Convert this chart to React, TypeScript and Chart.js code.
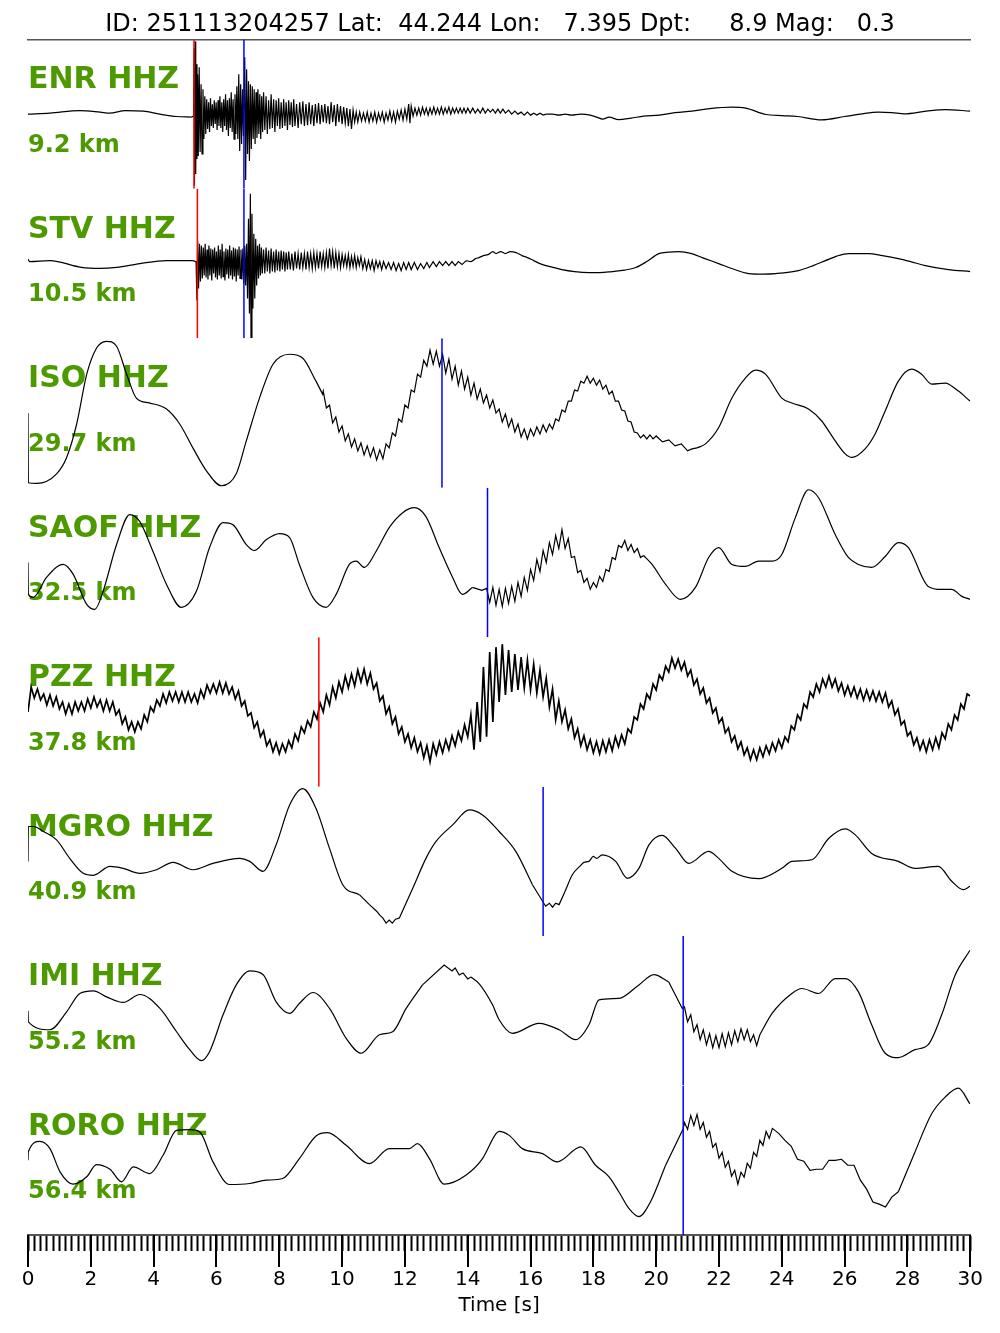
import React, { useEffect, useRef } from 'react';
import { Chart, registerables } from 'chart.js';

Chart.register(...registerables);

// ---------- text ----------
const TITLE = 'ID: 251113204257 Lat:  44.244 Lon:   7.395 Dpt:     8.9 Mag:   0.3';
const STATIONS = ['ENR HHZ', 'STV HHZ', 'ISO HHZ', 'SAOF HHZ', 'PZZ HHZ', 'MGRO HHZ', 'IMI HHZ', 'RORO HHZ'];
const DISTANCES = ['9.2 km', '10.5 km', '29.7 km', '32.5 km', '37.8 km', '40.9 km', '55.2 km', '56.4 km'];
const X_TICK_LABELS = [0, 2, 4, 6, 8, 10, 12, 14, 16, 18, 20, 22, 24, 26, 28, 30];
const X_AXIS_TITLE = 'Time [s]';

// ---------- picks (seconds), one entry per station ----------
const RED_PICKS: (number | null)[] = [5.285, 5.393, null, null, 9.26, null, null, null];
const BLUE_PICKS: (number | null)[] = [6.875, 6.875, 13.18, 14.63, null, 16.4, 20.86, 20.86];

// time windows (s) where each trace is dominated by high-frequency noise
const NOISY_WINDOWS: [number, number][][] = [
  [[5.27, 16.5]],
  [[5.35, 13.95]],
  [[9.38, 21.3]],
  [[14.45, 19.6]],
  [[0, 30]],
  [[10.87, 11.82], [16.48, 17.1]],
  [[13.25, 14.1], [20.83, 23.3]],
  [[20.86, 27.71]],
];

// ---------- traces: [time s, normalised amplitude] ----------
const ENR: [number, number][] = [
  [0, 0], [0.7, 1], [1.65, 3.6], [2.3, 2], [2.6, 1], [3.1, 3.6], [3.67, 3], [4.2, 0], [4.73, -2.4], [5.2, -3], [5.27, -2],
  [5.29, 66], [5.3, -72], [5.32, 73], [5.34, -60], [5.36, 50], [5.38, -45], [5.4, 40], [5.42, -42], [5.45, 47], [5.48, -38],
  [5.51, 30], [5.54, -40], [5.57, 25], [5.6, -25], [5.63, 18], [5.66, -20], [5.69, 15], [5.72, -15], [5.75, 12], [5.78, -18],
  [5.81, 16], [5.84, -12], [5.87, 10], [5.9, -14], [5.93, 14], [5.96, -10], [5.99, 12], [6.02, -16], [6.05, 14], [6.08, -12],
  [6.11, 18], [6.14, -14], [6.17, 12], [6.2, -18], [6.23, 15], [6.26, -12], [6.29, 20], [6.32, -16], [6.35, 14], [6.38, -22],
  [6.41, 16], [6.44, -14], [6.47, 22], [6.5, -18], [6.53, 15], [6.56, -25], [6.59, 20], [6.62, -20], [6.65, 28], [6.68, -25],
  [6.71, 40], [6.74, -37], [6.77, 30], [6.8, -30], [6.83, 25], [6.86, -22], [6.9, 57], [6.93, -66], [6.96, 45], [6.99, -40],
  [7.02, 33], [7.05, -47], [7.08, 30], [7.11, -35], [7.14, 28], [7.17, -25], [7.2, 25], [7.23, -30], [7.26, 22], [7.29, -24],
  [7.32, 25], [7.35, -20], [7.38, 20], [7.41, -25], [7.44, 18], [7.47, -18], [7.5, 22], [7.54, -16], [7.58, 18], [7.62, -20],
  [7.66, 14], [7.7, -15], [7.74, 20], [7.78, -14], [7.82, 15], [7.86, -18], [7.9, 14], [7.94, -12], [7.98, 16], [8.02, -15],
  [8.06, 12], [8.1, -14], [8.14, 15], [8.18, -12], [8.22, 12], [8.26, -16], [8.3, 14], [8.34, -11], [8.38, 12], [8.42, -13],
  [8.46, 15], [8.5, -12], [8.55, 10], [8.6, -14], [8.65, 12], [8.7, -10], [8.75, 13], [8.8, -12], [8.85, 10], [8.9, -11],
  [8.95, 12], [9, -10], [9.05, 9], [9.1, -12], [9.15, 10], [9.2, -9], [9.25, 11], [9.3, -10], [9.35, 9], [9.4, -8],
  [9.45, 10], [9.5, -9], [9.55, 8], [9.6, -10], [9.65, 12], [9.7, -8], [9.75, 9], [9.8, -12], [9.85, 10], [9.9, -8],
  [9.95, 8], [10, -10], [10.05, 7], [10.1, -9], [10.15, 6], [10.2, -12], [10.25, 5], [10.3, -15], [10.35, 4], [10.4, -8],
  [10.45, 2], [10.5, -8], [10.56, 2], [10.62, -7], [10.68, 1], [10.74, -7], [10.8, 2], [10.86, -8], [10.92, 1], [10.98, -7],
  [11.04, 2], [11.1, -8], [11.16, 1], [11.22, -6], [11.28, 2], [11.34, -8], [11.4, 1], [11.46, -6], [11.52, 3], [11.58, -7],
  [11.64, 2], [11.7, -8], [11.76, 3], [11.82, -5], [11.88, 4], [11.94, -6], [12, 5], [12.06, -5], [12.12, 10], [12.16, -9],
  [12.2, 8], [12.26, -2], [12.32, 6], [12.38, -1], [12.44, 6], [12.5, -1], [12.56, 7], [12.62, 0], [12.68, 6], [12.74, -1],
  [12.8, 6], [12.86, 0], [12.92, 7], [12.98, 0], [13.04, 6], [13.1, 0], [13.16, 7], [13.22, 0], [13.28, 6], [13.34, 1],
  [13.4, 7], [13.46, 0], [13.52, 6], [13.58, 1], [13.64, 6], [13.7, 1], [13.76, 6], [13.82, 1], [13.88, 6], [13.94, 1],
  [14, 6], [14.08, 1], [14.16, 6], [14.24, 1], [14.32, 5], [14.4, 1], [14.48, 6], [14.56, 1], [14.64, 5], [14.72, 2],
  [14.8, 5], [14.88, 1], [14.96, 5], [15.04, 1], [15.12, 5], [15.2, 1], [15.3, 4], [15.4, 0], [15.5, 3], [15.6, 0],
  [15.7, 2], [15.8, -1], [15.9, 2], [16, -1], [16.1, 1], [16.2, -1], [16.3, 1], [16.4, -1], [16.5, 0], [16.7, 0],
  [16.9, -1], [17.1, 0], [17.3, -1], [17.6, 0], [17.9, -1], [18.1, -3], [18.3, -5], [18.5, -3], [18.8, -5.5], [19.2, -4],
  [19.6, -2], [20.1, -1], [20.6, 1.5], [21.14, 3], [21.7, 5.5], [22.4, 7], [22.85, 6], [23.5, -0.4], [24, -1.5], [24.5, -2.4],
  [25.26, -5.7], [26, -2.4], [26.5, 0], [27.07, 2], [27.5, 1.5], [27.9, 0.3], [28.6, 3], [29.2, 4.6], [30, 3],
];

const STV: [number, number][] = [
  [0, 4.6], [0.05, 2], [0.7, 3], [1.7, -3.8], [2.29, -4.8], [2.82, -3.8], [3.56, 0], [4.41, 3], [5.25, 3], [5.35, 2],
  [5.38, -37], [5.4, 23], [5.43, -25], [5.46, 20], [5.49, -18], [5.52, 18], [5.55, -15], [5.58, 16], [5.61, -12], [5.64, 20],
  [5.67, -14], [5.7, 14], [5.73, -16], [5.76, 18], [5.79, -12], [5.82, 15], [5.85, -17], [5.88, 14], [5.91, -10], [5.94, 16],
  [5.97, -14], [6, 12], [6.03, -16], [6.06, 18], [6.09, -12], [6.12, 14], [6.15, -15], [6.18, 20], [6.21, -13], [6.24, 12],
  [6.27, -17], [6.3, 15], [6.33, -11], [6.36, 14], [6.39, -15], [6.42, 18], [6.45, -12], [6.48, 13], [6.51, -16], [6.54, 16],
  [6.57, -13], [6.6, 15], [6.63, -18], [6.66, 14], [6.69, -12], [6.72, 17], [6.75, -15], [6.78, 14], [6.81, -16], [6.84, 15],
  [6.87, -20], [6.9, 18], [6.93, -22], [6.96, 20], [6.99, -35], [7.02, 45], [7.05, -50], [7.08, 70], [7.1, -74], [7.13, 50],
  [7.16, -45], [7.19, 30], [7.22, -35], [7.25, 25], [7.28, -22], [7.31, 18], [7.34, -15], [7.37, 20], [7.4, -12], [7.43, 16],
  [7.46, -10], [7.5, 14], [7.54, -10], [7.58, 16], [7.62, -8], [7.66, 13], [7.7, -10], [7.74, 15], [7.78, -8], [7.82, 12],
  [7.86, -9], [7.9, 14], [7.94, -7], [7.98, 12], [8.02, -8], [8.06, 13], [8.1, -6], [8.14, 12], [8.18, -8], [8.22, 11],
  [8.26, -6], [8.3, 12], [8.35, -6], [8.4, 10], [8.45, -7], [8.5, 12], [8.55, -5], [8.6, 10], [8.65, -6], [8.7, 11],
  [8.75, -4], [8.8, 10], [8.85, -6], [8.9, 12], [8.95, -4], [9, 10], [9.05, -5], [9.1, 11], [9.15, -4], [9.2, 10],
  [9.25, -5], [9.3, 12], [9.35, -3], [9.4, 10], [9.45, -4], [9.5, 11], [9.55, -5], [9.6, 15], [9.65, -2], [9.7, 12],
  [9.75, -5], [9.8, 11], [9.85, -3], [9.9, 10], [9.95, -4], [10, 9], [10.05, -2], [10.1, 8], [10.15, -3], [10.2, 9],
  [10.25, -4], [10.3, 7], [10.35, -3], [10.4, 8], [10.45, -4], [10.5, 6], [10.55, -2], [10.6, 7], [10.66, -5], [10.72, 4],
  [10.78, -6], [10.84, 3], [10.9, -5], [10.96, 3], [11.02, -7], [11.08, 3], [11.14, -4], [11.2, 2], [11.26, -6], [11.32, 2],
  [11.4, -5], [11.48, 1], [11.56, -6], [11.64, 1], [11.72, -7], [11.8, 0], [11.88, -7], [11.96, 1], [12.04, -6], [12.12, 1],
  [12.2, -6], [12.3, 1], [12.4, -6], [12.5, 0], [12.6, -5], [12.7, 1], [12.78, -4], [12.9, 2], [13, -3], [13.1, 2],
  [13.2, -2], [13.3, 2], [13.4, -2], [13.5, 2], [13.6, -2], [13.7, 2], [13.82, -1], [13.95, 3], [14.1, 2], [14.25, 5],
  [14.36, 6], [14.5, 8], [14.65, 9], [14.8, 12], [14.9, 10], [15.05, 12], [15.2, 10], [15.35, 12], [15.54, 11], [15.73, 8],
  [15.9, 6], [16.1, 3], [16.3, 0], [16.49, -2], [16.75, -4], [17, -6], [17.4, -8], [17.86, -9], [18.2, -9], [18.59, -8],
  [19, -6.5], [19.35, -4], [19.7, 2], [20.08, 10], [20.4, 11.5], [20.72, 12], [21.13, 10], [21.55, 5], [21.99, 0], [22.45, -5.5],
  [22.94, -10], [23.4, -10.5], [23.8, -10], [24.53, -7], [25, -2], [25.39, 3], [25.75, 7.5], [26.12, 10], [26.76, 10], [27.2, 8],
  [27.71, 5], [28.1, 2], [28.57, -2], [29.3, -6], [30, -8],
];

const ISO: [number, number][] = [
  [0, 0], [0.01, -70], [0.28, -70.6], [0.91, -61], [1.23, -44.6], [1.55, -11], [1.87, 39], [2.18, 65], [2.5, 72], [2.82, 67],
  [3.14, 39], [3.45, 15], [3.88, 10], [4.41, 4], [4.83, -11], [5.25, -35], [5.68, -58], [6.16, -73], [6.63, -61], [6.95, -28],
  [7.37, 15], [7.8, 49], [8.33, 59], [8.75, 55], [9.17, 32], [9.38, 19],
  [9.4, 22], [9.5, 5], [9.6, 8], [9.7, -10], [9.8, -4], [9.9, -19], [10, -13], [10.1, -28], [10.2, -21], [10.3, -34],
  [10.4, -26], [10.5, -38], [10.6, -30], [10.7, -42], [10.8, -33], [10.9, -44], [11, -35], [11.1, -47], [11.2, -37], [11.3, -46],
  [11.4, -31], [11.5, -35], [11.6, -20], [11.7, -23], [11.8, -6], [11.9, -9], [12, 8], [12.1, 5], [12.2, 23], [12.3, 21],
  [12.4, 39], [12.5, 36], [12.6, 53], [12.7, 47], [12.8, 63], [12.9, 49], [13, 62], [13.1, 47], [13.2, 59], [13.3, 40],
  [13.4, 54], [13.5, 34], [13.6, 47], [13.7, 28], [13.8, 42], [13.9, 24], [14, 36], [14.1, 18], [14.2, 30], [14.3, 14],
  [14.4, 24], [14.5, 10], [14.6, 18], [14.7, 5], [14.8, 13], [14.9, 0], [15, 4], [15.1, -9], [15.2, -1], [15.3, -14],
  [15.4, -6], [15.5, -19], [15.6, -11], [15.7, -24], [15.8, -16], [15.9, -26], [16, -16], [16.1, -23], [16.2, -14], [16.3, -21],
  [16.4, -12], [16.5, -19], [16.6, -11], [16.7, -16], [16.8, -6], [16.9, -8], [17, 3], [17.1, 1], [17.2, 12], [17.3, 12],
  [17.4, 23], [17.5, 22], [17.6, 32], [17.7, 30], [17.8, 37], [17.9, 30], [18, 35], [18.1, 28], [18.2, 33], [18.3, 24],
  [18.4, 28], [18.5, 19], [18.6, 22], [18.7, 12], [18.8, 12], [18.9, 3], [19, 2], [19.1, -8], [19.2, -9], [19.3, -19],
  [19.4, -20], [19.5, -25], [19.6, -22], [19.7, -26], [19.8, -22], [19.9, -26], [20, -23], [20.2, -29], [20.4, -27], [20.6, -33],
  [20.8, -31], [21, -38], [21.14, -36], [21.3, -35], [21.57, -31], [21.99, -14.6], [22.41, 15], [22.84, 35], [23.16, 43], [23.48, 39],
  [24, 15], [24.32, 10], [24.85, 4], [25.27, -8], [25.7, -28], [26.02, -41], [26.23, -44.6], [26.65, -36], [26.97, -21], [27.29, 2],
  [27.71, 32], [28.13, 44], [28.45, 39], [28.77, 29], [29.2, 30], [29.62, 22], [29.99, 12],
];

const SAOF: [number, number][] = [
  [0, 0], [0.01, -32], [0.17, -35], [0.59, -15], [1.12, -2], [1.44, -12], [1.87, -42], [2.13, -47], [2.39, -29], [2.82, 18],
  [3.24, 48], [3.56, 41], [3.98, 11], [4.41, -22], [4.88, -45], [5.36, -29], [5.78, 15], [6.21, 40], [6.52, 38], [6.95, 18],
  [7.21, 12], [7.59, 23], [8.01, 29], [8.33, 25], [8.64, -2], [9.07, -35], [9.49, -45], [9.81, -32], [10.23, -2], [10.45, 1.4],
  [10.71, -5], [11.08, 11], [11.5, 35], [11.93, 50], [12.3, 55], [12.67, 46], [13.09, 15], [13.52, -15], [13.83, -32], [14.15, -25],
  [14.45, -28],
  [14.6, -26], [14.7, -40], [14.8, -25], [14.9, -43], [15, -27], [15.1, -44], [15.2, -26], [15.3, -41], [15.4, -24], [15.5, -39],
  [15.6, -20], [15.7, -34], [15.8, -15], [15.9, -28], [16, -7], [16.1, -18], [16.2, 3], [16.3, -9], [16.4, 12], [16.5, 0],
  [16.6, 20], [16.7, 8], [16.8, 27], [16.9, 14], [17, 33], [17.1, 14], [17.2, 24], [17.3, 5], [17.4, 6], [17.5, -10],
  [17.6, -8], [17.7, -20], [17.8, -16], [17.9, -27], [18, -20], [18.1, -25], [18.2, -14], [18.3, -19], [18.4, -7], [18.5, -9],
  [18.6, 5], [18.7, 3], [18.8, 17], [18.9, 15], [19, 22], [19.1, 12], [19.2, 18], [19.3, 10], [19.4, 14], [19.5, 5],
  [19.6, 7],
  [19.87, -2], [20.3, -22], [20.77, -37], [21.25, -25], [21.67, 5], [21.99, 15], [22.41, -2], [22.84, -4], [23.26, 1.4], [23.69, 1.4],
  [24, 8], [24.43, 45], [24.85, 73], [25.17, 65], [25.7, 28], [26.12, 5], [26.44, -2], [26.86, -5], [27.29, 6], [27.71, 20],
  [28.03, 15], [28.66, -24], [29.09, -27], [29.41, -27], [29.73, -34], [29.99, -37],
];

// PZZ is read at a regular 0.1 s interval
const PZZ_DT = 0.1;
const PZZ: number[] = [
  0, 25, 14, 23, 12, 18, 7, 17, 6, 15,
  3, 10, -2, 8, -2, 10, 1, 10, 1, 13,
  4, 15, 5, 12, 1, 12, 1, 10, -3, 2,
  -12, -5, -18, -10, -20, -10, -17, -3, -10, 5,
  0, 12, 6, 18, 9, 20, 11, 20, 10, 20,
  10, 20, 10, 18, 9, 22, 14, 27, 19, 28,
  19, 30, 19, 29, 18, 25, 13, 21, 6, 11,
  -4, -1, -16, -10, -25, -19, -34, -28, -40, -31,
  -42, -32, -40, -29, -36, -22, -29, -15, -21, -9,
  -15, 0, -7, 9, 0, 17, 7, 25, 14, 30,
  20, 36, 24, 38, 26, 42, 30, 43, 28, 39,
  23, 29, 11, 16, -2, 5, -12, -5, -22, -15,
  -30, -22, -36, -26, -40, -31, -46, -34, -50, -32,
  -43, -30, -41, -28, -38, -24, -34, -20, -29, -13,
  -25, -3, -38, 10, -30, 45, -25, 60, -10, 65,
  10, 68, 17, 62, 20, 58, 22, 55, 24, 52,
  22, 48, 19, 42, 15, 34, 5, 23, -8, 11,
  -10, 2, -17, -7, -26, -17, -34, -24, -38, -28,
  -41, -30, -42, -29, -40, -28, -39, -25, -35, -23,
  -32, -17, -21, -5, -8, 8, 3, 18, 13, 28,
  22, 37, 32, 46, 40, 54, 44, 53, 42, 50,
  36, 42, 27, 33, 18, 24, 9, 14, -1, 4,
  -11, -6, -21, -16, -30, -24, -37, -30, -43, -36,
  -48, -38, -48, -36, -45, -34, -42, -31, -39, -28,
  -36, -25, -30, -14, -18, -3, -8, 8, 4, 20,
  15, 28, 20, 33, 25, 36, 25, 33, 21, 29,
  17, 26, 16, 25, 14, 23, 12, 22, 12, 21,
  11, 20, 10, 19, 5, 11, -3, 3, -13, -9,
  -24, -20, -33, -26, -38, -29, -40, -28, -38, -26,
  -36, -21, -27, -12, -18, -3, -8, 8, 3, 18,
  16,
];

const MGRO: [number, number][] = [
  [0, 0], [0.01, 35], [0.17, 35], [0.49, 30], [0.91, 21.6], [1.33, 3], [1.76, -12], [2.08, -14], [2.61, -5], [3.03, -7],
  [3.56, -12], [4.09, -8.4], [4.62, -1], [5.25, -8.4], [5.89, -2], [6.74, 3], [7.06, 0], [7.48, -10], [7.9, 16.6], [8.33, 56.6],
  [8.75, 73], [9.17, 53], [9.6, 13], [10.02, -23.4], [10.55, -33.4], [10.87, -43.4], [11.1, -50], [11.2, -54], [11.3, -57], [11.4, -62],
  [11.5, -59], [11.6, -62], [11.7, -58], [11.82, -57], [12.25, -27], [12.67, 3], [12.99, 20], [13.52, 36.6], [14.05, 51.6], [14.47, 46.6],
  [15, 30], [15.53, 10], [16.06, -23.4], [16.48, -45], [16.6, -42], [16.7, -46], [16.8, -42], [16.91, -43.4], [17.1, -30], [17.33, -13.4],
  [17.6, -4], [17.7, -1], [17.86, 0], [18.0, 5], [18.1, 3], [18.28, 6.6], [18.71, 0], [19.08, -17], [19.45, -7], [19.77, 16.6],
  [20.19, 26], [20.62, 13], [21.04, -2], [21.67, 10], [21.99, 3], [22.41, -10], [23.26, -17.4], [24, -7], [24.32, 0], [24.96, 1.6],
  [25.49, 23], [26.02, 32.6], [26.34, 26.6], [26.86, 8], [27.71, 0], [28.24, -7], [28.98, -5], [29.41, -20], [29.78, -28.4], [29.99, -25],
];

const IMI: [number, number][] = [
  [0, 0], [0.01, -11], [0.7, -19], [1.23, -1], [1.65, 17.4], [2.08, 20], [2.5, 14], [3.03, 8.4], [3.56, 16.4], [4.2, 2.4],
  [4.73, -21], [5.15, -39], [5.52, -50], [5.78, -41], [6.21, -4], [6.63, 26], [7.06, 40], [7.48, 36.4], [7.9, 9], [8.33, -2.6],
  [8.64, 7.4], [9.07, 18.4], [9.6, 2.4], [10.13, -27.6], [10.61, -42.6], [11.19, -24], [11.61, -21], [12.04, 2.4], [12.56, 26], [13.25, 46],
  [13.5, 40], [13.6, 43], [13.73, 36], [13.85, 38], [14, 32], [14.1, 34], [14.36, 27.4], [14.79, 6], [15, -9], [15.42, -22.6],
  [16.27, -12.6], [16.91, -19], [17.44, -29], [17.86, -14], [18.18, 11], [18.81, 12.4], [19.45, 26], [19.93, 36.4], [20.4, 29], [20.83, 2.4],
  [20.9, 4], [21, -11], [21.1, -4], [21.2, -21], [21.3, -14], [21.4, -29], [21.5, -19], [21.6, -34], [21.7, -23], [21.8, -37],
  [21.9, -25], [22, -37], [22.1, -23], [22.2, -36], [22.3, -22], [22.4, -34], [22.5, -20], [22.6, -31], [22.7, -18], [22.8, -29],
  [22.9, -19], [23, -31], [23.1, -24], [23.2, -35], [23.3, -24],
  [23.69, -2.6], [24.32, 17.4], [24.64, 22.4], [25.17, 17.4], [25.7, 32.4], [26.02, 32.4], [26.44, 19], [26.86, -14], [27.29, -42.6], [27.71, -47],
  [28.24, -39], [28.66, -34], [29.09, -4], [29.52, 36], [29.99, 60.8],
];

const RORO: [number, number][] = [
  [0, 0], [0.01, 8.4], [0.38, 19], [0.7, 11.7], [1.02, -11.6], [1.44, -24], [1.87, -16.6], [2.18, -4.3], [2.61, -9], [2.98, -21.6],
  [3.35, -6.6], [3.88, -13.3], [4.3, 5], [4.73, 30], [5.15, 30.7], [5.47, 28.4], [5.89, -1.6], [6.42, -24.3], [7.06, -23.3], [7.59, -20],
  [8.11, -18.3], [8.64, 1.7], [9.17, 24.4], [9.54, 27.7], [10.13, 15], [10.87, -3.3], [11.5, 11.7], [12.14, 11.7], [12.4, 16.7], [12.78, 1.7],
  [13.25, -24], [13.94, -15], [14.47, 1.7], [14.9, 26.7], [15, 29], [15.32, 25], [15.74, 11.7], [16.38, 6.7], [16.85, -1.6], [17.6, 13.4],
  [18.07, -5], [18.5, -16.6], [18.81, -31.6], [19.13, -48.3], [19.45, -56.6], [19.82, -41.6], [20.3, -5], [20.86, 31.7],
  [20.9, 38], [21, 31], [21.1, 45], [21.2, 35], [21.3, 46], [21.4, 31], [21.5, 38], [21.6, 23], [21.7, 29], [21.8, 13],
  [21.9, 17], [22, 2], [22.1, 8], [22.2, -7], [22.3, -1], [22.4, -16], [22.5, -10], [22.6, -24], [22.7, -12], [22.8, -17],
  [22.9, -3], [23, -8], [23.1, 8], [23.2, 4], [23.3, 20], [23.4, 15], [23.5, 29], [23.6, 22], [23.7, 32],
  [23.9, 27], [24.1, 20], [24.3, 14], [24.5, 1], [24.7, -1], [24.9, -10], [25.1, -9], [25.3, -9], [25.5, 0], [25.7, 0],
  [25.9, 1], [26.1, -5], [26.3, -5], [26.5, -20], [26.7, -29], [26.9, -42], [27.1, -44], [27.3, -47], [27.5, -37], [27.71, -31.6],
  [28.24, 8.4], [28.77, 46.7], [29.2, 63.4], [29.62, 72.4], [29.99, 56.7],
];

// ---------- styling ----------
const GREEN = '#4c9900';
const FONT = 'DejaVu Sans';
const AMP = 75;

type Pt = { x: number; y: number };

function toPoints(pairs: [number, number][]): Pt[] {
  return pairs.map(([t, v]) => ({ x: t, y: v }));
}

const TRACE_POINTS: Pt[][] = [
  toPoints(ENR),
  toPoints(STV),
  toPoints(ISO),
  toPoints(SAOF),
  PZZ.map((v, i) => ({ x: Math.round(i * PZZ_DT * 1000) / 1000, y: v })),
  toPoints(MGRO),
  toPoints(IMI),
  toPoints(RORO),
];

// split a trace into consecutive smooth / noisy runs that share their joining sample
function splitRuns(pts: Pt[], windows: [number, number][]) {
  const inNoise = (x: number) => windows.some(([a, b]) => x >= a && x <= b);
  const runs: { noisy: boolean; pts: Pt[] }[] = [];
  pts.forEach((p, k) => {
    const n = inNoise(p.x);
    const last = runs[runs.length - 1];
    if (!last || last.noisy !== n) {
      const start = k > 0 ? [pts[k - 1], p] : [p];
      runs.push({ noisy: n, pts: start });
    } else {
      last.pts.push(p);
    }
  });
  return runs.filter((r) => r.pts.length > 1);
}

const labelPlugin = {
  id: 'stationLabels',
  beforeDatasetsDraw(chart: any) {
    const ctx = chart.ctx;
    const left = chart.chartArea.left;
    ctx.save();
    ctx.fillStyle = GREEN;
    ctx.textAlign = 'left';
    ctx.textBaseline = 'alphabetic';
    STATIONS.forEach((name, i) => {
      const s = chart.scales['y' + i];
      ctx.font = `bold 30px "${FONT}"`;
      ctx.fillText(name, left, s.top + 49);
      ctx.font = `bold 24px "${FONT}"`;
      ctx.fillText(DISTANCES[i], left, s.top + 112.5);
    });
    ctx.restore();
  },
  afterDraw(chart: any) {
    const ctx = chart.ctx;
    const xs = chart.scales.x;
    ctx.save();
    ctx.strokeStyle = '#000';
    ctx.lineWidth = 2;
    X_TICK_LABELS.forEach((v) => {
      const px = Math.round(xs.getPixelForValue(v));
      ctx.beginPath();
      ctx.moveTo(px, xs.top);
      ctx.lineTo(px, xs.top + 32);
      ctx.stroke();
    });
    ctx.fillStyle = '#000';
    ctx.font = `20px "${FONT}"`;
    ctx.textAlign = 'center';
    ctx.textBaseline = 'middle';
    ctx.fillText(X_AXIS_TITLE, (xs.left + xs.right) / 2, xs.top + 71);
    ctx.restore();
  },
};

export default function App() {
  const ref = useRef<HTMLCanvasElement>(null);

  useEffect(() => {
    if (!ref.current) return;
    Chart.defaults.font.family = FONT;

    const datasets: any[] = [];
    STATIONS.forEach((_, i) => {
      const r = RED_PICKS[i];
      const b = BLUE_PICKS[i];
      if (r !== null) {
        datasets.push({
          data: [{ x: r, y: -AMP }, { x: r, y: AMP }],
          yAxisID: 'y' + i, xAxisID: 'x',
          borderColor: '#ff0000', borderWidth: 1.5, pointRadius: 0, order: 0,
        });
      }
      if (b !== null) {
        datasets.push({
          data: [{ x: b, y: -AMP }, { x: b, y: AMP }],
          yAxisID: 'y' + i, xAxisID: 'x',
          borderColor: '#0000ff', borderWidth: 1.5, pointRadius: 0, order: 0,
        });
      }
    });
    TRACE_POINTS.forEach((pts, i) => {
      splitRuns(pts, NOISY_WINDOWS[i]).forEach((run) => {
        datasets.push({
          label: STATIONS[i],
          data: run.pts,
          yAxisID: 'y' + i, xAxisID: 'x',
          borderColor: '#000',
          borderWidth: i === 4 ? 1.7 : 1.2,
          pointRadius: 0,
          cubicInterpolationMode: run.noisy ? 'default' : 'monotone',
          tension: 0,
          order: 1,
        });
      });
    });

    const scales: any = {
      x: {
        type: 'linear', position: 'bottom', min: 0, max: 30,
        ticks: {
          stepSize: 0.2, autoSkip: false, maxRotation: 0, minRotation: 0,
          padding: 17, color: '#000', font: { family: FONT, size: 20 },
          callback: (v: number) => {
            const r = Math.round(v * 10) / 10;
            return X_TICK_LABELS.includes(r) ? String(r) : '';
          },
        },
        grid: { drawOnChartArea: false, drawTicks: true, tickLength: 16, tickWidth: 2, tickColor: '#000' },
        border: { display: true, color: '#555', width: 2 },
      },
      xTop: {
        type: 'linear', position: 'top', min: 0, max: 30,
        ticks: { display: false },
        grid: { display: false, drawTicks: false },
        border: { display: true, color: '#555', width: 1.5 },
      },
    };
    STATIONS.forEach((_, i) => {
      scales['y' + i] = {
        type: 'linear', position: 'left', min: -AMP, max: AMP,
        display: false, stack: 'traces', stackWeight: 1, weight: 8 - i,
      };
    });

    const chart = new Chart(ref.current, {
      type: 'line',
      data: { datasets },
      options: {
        animation: false,
        responsive: false,
        maintainAspectRatio: false,
        layout: { padding: { left: 28, right: 28, top: 0, bottom: 24 } },
        plugins: {
          legend: { display: false },
          tooltip: { enabled: false },
          title: {
            display: true, text: TITLE, color: '#000',
            font: { family: FONT, size: 24, weight: 'normal' },
            padding: { top: 10.6, bottom: 0 },
          },
        },
        scales,
      },
      plugins: [labelPlugin],
    } as any);
    return () => chart.destroy();
  }, []);

  return (
    <div style={{ position: 'absolute', left: 0, top: 0, width: 1000, height: 1333, background: '#fff' }}>
      <canvas ref={ref} width={1000} height={1333} style={{ display: 'block' }} />
    </div>
  );
}
